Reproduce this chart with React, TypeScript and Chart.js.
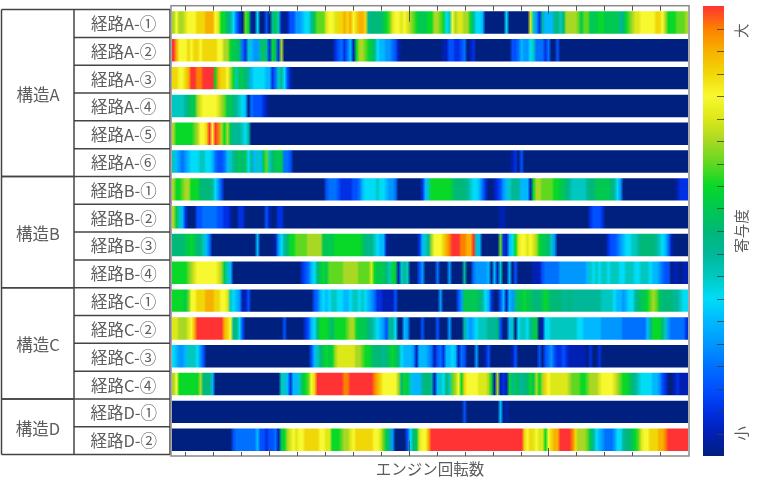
import { useEffect, useRef } from 'react';
import Chart from 'chart.js/auto';

const FONT = '"Noto Sans CJK JP", "Noto Sans", sans-serif';
const TEXT = '#5c5c5c';

// contribution level of each engine speed bin, 0 (small) .. 20 (large)
const routeA1 = [
  14,16,14,14,15,16,16,16,17,17,17,18,18,18,16,15,12,12,10,9,
  7,4,2,0,13,12,1,0,7,0,0,3,0,9,11,8,1,0,1,3,
  3,5,5,6,7,7,9,11,13,13,13,15,16,16,15,17,17,18,17,18,
  16,17,18,18,17,9,10,10,10,10,11,12,13,15,16,16,15,16,15,14,
  13,12,11,11,11,12,12,14,14,13,12,7,8,16,14,15,15,14,14,12,
  9,7,7,6,0,0,0,0,0,0,0,7,0,0,0,0,0,0,0,15,
  8,5,2,9,6,6,6,9,10,8,10,14,14,14,14,13,11,13,13,11,
  11,11,12,12,11,11,11,11,11,9,10,12,13,14,15,15,16,16,16,16,
  16,17,17,16,14,12,12,12,13,13,13,14,
];
const routeA2 = [
  20,18,16,16,16,17,16,17,17,16,17,17,17,17,17,16,16,14,14,12,
  11,11,10,4,2,8,6,5,5,9,11,9,2,12,10,2,14,0,0,0,
  0,0,0,0,0,0,0,0,0,0,0,0,0,0,2,3,4,2,4,6,
  1,12,14,14,13,12,11,10,7,6,6,5,5,4,3,1,0,0,0,0,
  0,0,0,0,0,0,0,0,0,0,1,1,3,3,2,2,3,4,0,1,
  2,0,0,0,0,0,0,0,0,0,0,0,0,3,3,4,6,5,5,7,
  8,4,4,4,2,4,0,0,3,0,0,0,0,0,0,0,0,0,0,0,
  0,0,0,0,0,0,0,0,0,0,0,0,0,0,0,0,0,0,0,0,
  0,0,0,0,0,0,0,0,0,0,0,0,
];
const routeA3 = [
  17,17,16,16,17,18,20,20,19,19,20,20,20,20,12,18,17,17,16,14,
  12,8,11,11,10,9,6,7,7,7,7,6,6,2,4,8,9,7,3,1,
  0,0,0,0,0,0,0,0,0,0,0,0,0,0,0,0,0,0,0,0,
  0,0,0,0,0,0,0,0,0,0,0,0,0,0,0,0,0,0,0,0,
  0,0,0,0,0,0,0,0,0,0,0,0,0,0,0,0,0,0,0,0,
  0,0,0,0,0,0,0,0,0,0,0,0,0,0,0,0,0,0,0,0,
  0,0,0,0,0,0,0,0,0,0,0,0,0,0,0,0,0,0,0,0,
  0,0,0,0,0,0,0,0,0,0,0,0,0,0,0,0,0,0,0,0,
  0,0,0,0,0,0,0,0,0,0,0,0,
];
const routeA4 = [
  8,8,8,8,9,10,11,11,14,15,16,16,16,16,16,15,14,13,11,11,
  10,9,8,7,6,0,4,3,3,3,2,1,0,0,0,0,0,0,0,0,
  0,0,0,0,0,0,0,0,0,0,0,0,0,0,0,0,0,0,0,0,
  0,0,0,0,0,0,0,0,0,0,0,0,0,0,0,0,0,0,0,0,
  0,0,0,0,0,0,0,0,0,0,0,0,0,0,0,0,0,0,0,0,
  0,0,0,0,0,0,0,0,0,0,0,0,0,0,0,0,0,0,0,0,
  0,0,0,0,0,0,0,0,0,0,0,0,0,0,0,0,0,0,0,0,
  0,0,0,0,0,0,0,0,0,0,0,0,0,0,0,0,0,0,0,0,
  0,0,0,0,0,0,0,0,0,0,0,0,
];
const routeA5 = [
  14,12,12,12,12,12,12,13,14,16,16,17,20,16,20,19,14,12,14,11,
  9,9,9,8,7,9,0,0,0,0,0,0,0,0,0,0,0,0,0,0,
  0,0,0,0,0,0,0,0,0,0,0,0,0,0,0,0,0,0,0,0,
  0,0,0,0,0,0,0,0,0,0,0,0,0,0,0,0,0,0,0,0,
  0,0,0,0,0,0,0,0,0,0,0,0,0,0,0,0,0,0,0,0,
  0,0,0,0,0,0,0,0,0,0,0,0,0,0,0,0,0,0,0,0,
  0,0,0,0,0,0,0,0,0,0,0,0,0,0,0,0,0,0,0,0,
  0,0,0,0,0,0,0,0,0,0,0,0,0,0,0,0,0,0,0,0,
  0,0,0,0,0,0,0,0,0,0,0,0,
];
const routeA6 = [
  8,6,5,4,5,6,7,7,7,8,8,7,7,6,4,3,3,4,6,8,
  9,10,11,10,11,7,9,6,8,6,11,13,8,10,11,11,11,4,4,3,
  0,0,0,0,0,0,0,0,0,0,0,0,0,0,0,0,0,0,0,0,
  0,0,0,0,0,0,0,0,0,0,0,0,0,0,0,0,0,0,0,0,
  0,0,0,0,0,0,0,0,0,0,0,0,0,0,0,0,0,0,0,0,
  0,0,0,0,0,0,0,0,0,0,0,0,0,1,2,0,3,0,0,0,
  0,0,0,0,0,0,0,0,0,0,0,0,0,0,0,0,0,0,0,0,
  0,0,0,0,0,0,0,0,0,0,0,0,0,0,0,0,0,0,0,0,
  0,0,0,0,0,0,0,0,0,0,0,0,
];
const routeB1 = [
  14,12,12,13,14,14,12,12,12,10,10,10,10,9,7,5,3,0,0,0,
  0,0,0,0,0,0,0,0,0,0,0,0,0,0,0,0,0,0,0,0,
  0,0,0,0,0,0,0,0,0,0,0,3,4,4,4,3,2,2,2,2,
  3,3,4,6,7,7,7,7,8,7,7,6,5,5,4,0,0,0,0,0,
  0,0,0,2,6,8,12,12,12,12,12,12,12,11,10,10,10,10,9,8,
  7,7,6,4,2,0,0,1,2,3,5,6,8,9,9,9,6,6,6,1,
  12,14,14,13,13,13,13,12,12,11,11,10,9,8,8,8,8,8,9,10,
  10,11,11,11,11,11,10,9,7,5,0,0,0,0,0,0,0,0,0,0,
  0,0,0,0,0,0,0,0,1,2,2,2,
];
const routeB2 = [
  14,11,8,6,2,0,0,0,3,3,4,4,4,4,4,3,3,2,2,1,
  0,0,2,2,0,0,0,0,0,0,0,3,1,0,0,2,2,0,0,0,
  0,0,0,0,0,0,0,0,0,0,0,0,0,0,0,0,0,0,0,0,
  0,0,0,0,0,0,0,0,0,0,0,0,0,0,0,0,0,0,0,0,
  0,0,0,0,0,0,0,0,0,0,0,0,0,0,0,0,0,0,0,0,
  0,0,0,0,0,0,0,0,0,1,1,0,0,0,0,0,0,0,0,0,
  0,0,0,0,0,0,0,0,0,0,0,0,0,0,0,0,0,0,0,2,
  3,3,3,2,0,0,0,0,0,0,0,0,0,0,0,0,0,0,0,0,
  0,0,0,0,0,0,0,0,0,0,0,0,
];
const routeB3 = [
  10,10,10,10,11,11,12,11,10,10,8,6,4,0,0,0,0,0,0,0,
  0,0,0,0,0,0,0,0,6,0,0,0,0,0,1,5,7,9,10,12,
  12,13,13,13,13,14,14,14,14,14,11,11,11,11,12,12,12,12,12,12,
  12,12,12,11,10,9,10,8,7,6,6,1,0,0,0,0,0,0,0,0,
  0,0,2,6,8,9,14,16,16,16,17,18,19,20,20,20,19,19,18,18,
  20,8,6,0,0,0,0,0,0,13,2,1,6,7,12,15,16,16,15,16,
  15,14,12,11,11,10,8,5,0,0,0,0,0,0,0,0,0,0,0,0,
  0,0,0,0,0,2,3,3,4,5,6,7,7,8,8,9,10,10,10,10,
  10,9,8,7,6,4,1,0,0,0,0,0,
];
const routeB4 = [
  12,12,12,12,12,13,14,15,16,16,16,16,16,16,16,15,14,11,8,6,
  0,0,0,0,0,0,0,0,0,0,0,0,0,0,0,0,0,0,0,0,
  0,0,0,2,3,4,6,7,10,11,12,11,13,13,13,13,13,14,14,14,
  14,14,13,13,13,13,15,12,11,11,11,10,8,12,11,1,8,9,8,0,
  0,0,3,5,0,0,0,0,4,0,0,0,5,0,0,0,0,9,0,0,
  4,5,5,5,5,6,0,6,1,8,0,0,6,0,3,0,0,0,0,0,
  1,1,1,3,4,4,4,4,4,5,5,5,5,5,5,5,5,5,6,8,
  7,8,7,8,8,7,8,8,8,7,7,8,8,8,7,7,8,8,8,7,
  6,6,5,4,3,3,0,1,1,0,1,1,
];
const routeC1 = [
  12,12,12,12,11,13,16,16,17,17,17,18,18,18,17,17,16,16,15,8,
  7,6,5,1,1,3,0,0,0,0,0,0,0,0,0,0,0,0,0,0,
  0,0,0,0,0,0,0,3,4,6,7,6,7,8,8,7,7,6,6,7,
  8,8,7,8,7,6,5,4,2,2,1,1,1,1,3,0,0,0,0,0,
  0,0,0,0,0,0,0,0,0,5,0,0,0,0,0,3,5,11,11,11,
  11,11,10,9,7,6,2,0,0,3,6,1,6,5,9,11,11,12,11,11,
  10,10,10,11,12,11,10,10,10,10,9,9,10,9,9,9,9,9,9,9,
  9,9,9,8,8,8,8,7,6,6,5,6,7,7,9,10,11,11,12,13,
  14,13,11,10,10,10,10,9,9,8,7,7,
];
const routeC2 = [
  15,15,14,14,14,15,16,18,20,20,20,20,20,20,20,20,20,18,17,16,
  9,10,7,3,0,0,0,0,0,0,0,0,0,0,0,0,0,3,0,0,
  0,0,0,0,2,3,6,7,10,12,12,12,11,10,12,12,12,12,13,14,
  14,12,11,11,11,10,9,8,7,6,5,3,9,9,7,0,0,6,5,0,
  0,0,0,3,0,0,0,0,3,0,0,0,5,0,0,0,0,9,6,5,
  6,7,8,8,8,9,9,9,10,3,0,0,6,8,0,7,8,8,7,9,
  11,11,0,1,7,7,8,8,8,8,8,8,8,8,8,7,7,6,6,6,
  6,6,6,5,5,5,5,5,5,5,4,4,4,4,4,4,4,4,6,9,
  12,12,12,10,8,5,4,4,4,4,4,2,
];
const routeC3 = [
  7,6,5,5,6,8,8,8,7,5,3,0,0,0,0,0,0,0,0,0,
  0,0,0,0,0,0,0,0,0,0,0,0,0,0,0,0,0,0,0,0,
  0,0,0,0,0,0,3,6,8,10,11,12,11,12,14,15,15,15,15,15,
  15,14,14,13,12,12,11,10,10,10,9,10,11,12,11,10,7,6,6,6,
  5,1,6,6,6,5,4,1,3,4,2,6,6,7,6,1,4,3,0,0,
  0,5,0,0,1,3,0,0,0,0,0,0,0,1,3,0,0,0,0,0,
  0,0,3,0,3,4,5,3,2,2,3,2,1,1,1,1,1,1,0,2,
  0,0,2,0,0,0,0,0,0,0,0,0,0,0,0,0,0,0,0,0,
  0,0,0,0,0,0,0,0,0,0,0,0,
];
const routeC4 = [
  14,16,12,12,12,12,12,12,12,14,10,10,10,6,0,0,0,0,0,0,
  0,0,0,0,0,0,0,0,0,0,0,0,0,0,0,0,8,8,6,2,
  6,6,8,11,12,13,16,17,20,20,20,20,20,20,20,20,20,19,19,20,
  20,20,20,20,20,20,20,19,18,17,16,16,16,16,16,14,10,12,11,8,
  6,6,6,9,10,10,9,1,6,8,7,10,8,13,14,16,12,17,16,16,
  16,16,15,15,15,14,12,1,14,1,2,1,12,9,11,10,9,10,10,12,
  11,14,12,14,17,16,15,15,15,15,15,15,14,13,13,13,12,12,13,14,
  14,14,15,16,16,16,16,15,14,13,12,12,11,10,9,8,7,7,7,7,
  6,6,5,3,2,0,0,1,2,1,1,1,
];
const routeD1 = [
  0,0,0,0,0,0,0,0,0,0,0,0,0,0,0,0,0,0,0,0,
  0,0,0,0,0,0,0,0,0,0,0,0,0,0,0,0,0,0,0,0,
  0,0,0,0,0,0,0,0,0,0,0,0,0,0,0,0,0,0,0,0,
  0,0,0,0,0,0,0,0,0,0,0,0,0,0,0,0,0,0,0,0,
  0,0,0,0,0,0,0,0,0,0,0,0,0,0,0,0,0,3,0,0,
  0,0,0,0,0,0,0,0,0,6,0,1,0,0,0,0,0,0,0,0,
  0,0,0,0,0,0,0,0,0,0,0,0,0,0,0,0,0,0,0,0,
  0,0,0,0,0,0,0,0,0,0,0,0,0,0,0,0,0,0,0,0,
  0,0,0,0,0,0,0,0,0,0,0,0,
];
const routeD2 = [
  0,0,0,0,0,0,0,0,0,0,0,0,0,0,0,0,0,0,0,0,
  3,4,4,4,4,4,4,4,6,3,3,2,3,3,4,1,11,12,14,15,
  16,15,16,16,17,17,17,17,17,16,16,15,15,12,12,12,13,14,14,15,
  16,17,17,17,17,17,17,16,16,15,13,11,9,5,0,0,0,0,3,7,
  10,11,15,16,16,18,20,20,20,20,20,20,20,20,20,20,20,20,20,20,
  20,20,20,20,20,20,20,20,20,20,20,20,20,20,20,20,20,17,16,17,
  15,16,15,15,12,16,17,18,18,20,20,20,20,19,17,14,14,14,13,11,
  9,7,6,5,4,4,4,5,7,7,9,10,10,11,12,13,15,16,16,17,
  17,17,18,18,19,20,20,20,20,20,20,20,
];

const routeLevels = [
  routeA1, routeA2, routeA3, routeA4, routeA5, routeA6,
  routeB1, routeB2, routeB3, routeB4,
  routeC1, routeC2, routeC3, routeC4,
  routeD1, routeD2,
];
const routeNames = [
  '経路A-①', '経路A-②', '経路A-③', '経路A-④', '経路A-⑤', '経路A-⑥',
  '経路B-①', '経路B-②', '経路B-③', '経路B-④',
  '経路C-①', '経路C-②', '経路C-③', '経路C-④',
  '経路D-①', '経路D-②',
];
const structureNames = ['構造A', '構造B', '構造C', '構造D'];
const structureSizes = [6, 4, 4, 2];

// colour bar, from level 0 to level 20
const levelColors = [
  '#00207f', '#0020b4', '#0030e4', '#0050ff', '#0070ff', '#0098ff', '#00b8ff',
  '#00dcf8', '#00c8c0', '#00b898', '#00b878', '#00c850', '#08d828', '#60d820',
  '#a8d824', '#dce818', '#f8f830', '#f0d808', '#f8b000', '#fc8000', '#ff3333',
];
const scaleNames = ['大', '寄与度', '小'];
const scaleNameLevels = [18.9, 10, 1];

const binCount = 172;
const firstTick = 4.33;
const tickStep = 9.32;
const tickCount = 18;

// the picture is smoothed between bins, so each cell fades into its neighbours
const mix = (a: string, b: string) => {
  const out = [1, 3, 5].map((i) =>
    Math.round((parseInt(a.slice(i, i + 2), 16) + parseInt(b.slice(i, i + 2), 16)) / 2)
  );
  return `rgb(${out[0]},${out[1]},${out[2]})`;
};

const cellFill = (c: any) => {
  const row = routeLevels[c.dataIndex];
  if (!row) return levelColors[0];
  const bin = c.datasetIndex;
  const here = levelColors[row[bin]];
  const prev = levelColors[row[Math.max(bin - 1, 0)]];
  const next = levelColors[row[Math.min(bin + 1, binCount - 1)]];
  if (prev === here && next === here) return here;
  if (!c.chart.chartArea) return here;
  const x = c.chart.scales.x;
  const x0 = x.getPixelForValue(bin);
  const x1 = x.getPixelForValue(bin + 1);
  if (!Number.isFinite(x0) || !Number.isFinite(x1)) return here;
  const g = c.chart.ctx.createLinearGradient(x0, 0, x1, 0);
  g.addColorStop(0, mix(prev, here));
  g.addColorStop(0.5, here);
  g.addColorStop(1, mix(here, next));
  return g;
};

const tablePlugin = {
  id: 'routeTable',
  afterDraw(chart: any) {
    const { ctx, scales, chartArea } = chart;
    const y = scales.y;
    const x = scales.x;
    const line = (x1: number, y1: number, x2: number, y2: number) => {
      ctx.beginPath();
      ctx.moveTo(x1, y1);
      ctx.lineTo(x2, y2);
      ctx.stroke();
    };
    const rowEdge = (i: number) => y.getPixelForValue(i - 0.5) + 1;
    ctx.save();

    // left table
    ctx.strokeStyle = '#444';
    ctx.lineWidth = 1.5;
    routeNames.forEach((_, i) => line(74, rowEdge(i), 170, rowEdge(i)));
    line(74, rowEdge(16), 170, rowEdge(16));
    line(1.5, rowEdge(0), 1.5, rowEdge(16));
    line(74, rowEdge(0), 74, rowEdge(16));
    line(170, rowEdge(0), 170, rowEdge(16));

    ctx.font = `16.5px ${FONT}`;
    ctx.fillStyle = TEXT;
    ctx.textAlign = 'center';
    ctx.textBaseline = 'middle';
    let start = 0;
    structureNames.forEach((name, i) => {
      const end = start + structureSizes[i];
      line(1.5, rowEdge(start), 74, rowEdge(start));
      line(1.5, rowEdge(end), 74, rowEdge(end));
      ctx.fillText(name, 38, (rowEdge(start) + rowEdge(end)) / 2 + 1.5);
      start = end;
    });

    // frame and inward ticks
    ctx.strokeStyle = '#8a8a8a';
    ctx.strokeRect(171, chartArea.top - 2.9, 518, 450.3);
    ctx.strokeStyle = '#555';
    ctx.lineWidth = 1;
    const top = chartArea.top - 2.9;
    const bottom = top + 450.3;
    for (let i = 0; i < tickCount; i++) {
      const px = Math.round(x.getPixelForValue(firstTick + i * tickStep)) + 0.5;
      const major = i % 5 === 3;
      const topLen = i === 8 ? 16 : major ? 8.5 : 5;
      const bottomLen = i === 8 ? 15 : major ? 8 : 4;
      line(px, top, px, top + topLen);
      line(px, bottom, px, bottom - bottomLen);
    }
    ctx.restore();
  },
};

const colorBarPlugin = {
  id: 'colorBarMarks',
  afterDraw(chart: any) {
    const { ctx, scales, chartArea } = chart;
    const y = scales.y;
    ctx.save();
    ctx.strokeStyle = 'rgba(60,60,60,0.8)';
    ctx.lineWidth = 1;
    for (let level = 1; level < levelColors.length - 1; level++) {
      const py = Math.round(y.getPixelForValue(level)) + 0.5;
      ctx.beginPath();
      ctx.moveTo(chartArea.right - 7, py);
      ctx.lineTo(chartArea.right, py);
      ctx.stroke();
    }
    ctx.font = `14.5px ${FONT}`;
    ctx.fillStyle = TEXT;
    ctx.textAlign = 'center';
    ctx.textBaseline = 'middle';
    scaleNames.forEach((name, i) => {
      ctx.save();
      ctx.translate(chartArea.right + 17, y.getPixelForValue(scaleNameLevels[i]));
      ctx.rotate(-Math.PI / 2);
      ctx.fillText(name, 0, 0);
      ctx.restore();
    });
    ctx.restore();
  },
};

const App = () => {
  const chartRef = useRef<HTMLCanvasElement | null>(null);
  const barRef = useRef<HTMLCanvasElement | null>(null);

  useEffect(() => {
    if (!chartRef.current || !barRef.current) return;

    const datasets = [];
    for (let bin = 0; bin < binCount; bin++) {
      datasets.push({
        label: String(bin),
        data: routeLevels.map(() => 1),
        backgroundColor: cellFill,
        barPercentage: 0.806,
        categoryPercentage: 1,
      });
    }

    const heatmap = new Chart(chartRef.current, {
      type: 'bar',
      data: { labels: routeNames, datasets },
      plugins: [tablePlugin],
      options: {
        indexAxis: 'y',
        animation: false,
        responsive: false,
        layout: { padding: { left: 75, right: 72, top: 8.6, bottom: 0 } },
        plugins: { legend: { display: false }, tooltip: { enabled: false } },
        scales: {
          x: {
            stacked: true,
            min: 0,
            max: binCount,
            grid: { display: false },
            border: { display: false },
            ticks: { display: false },
            title: {
              display: true,
              text: 'エンジン回転数',
              color: TEXT,
              font: { family: FONT, size: 15.5 },
              padding: { top: 4, bottom: 11 },
            },
            afterFit: (scale: any) => {
              scale.height = 35.4;
            },
          },
          y: {
            stacked: true,
            grid: { display: false, drawTicks: false },
            border: { display: false },
            ticks: {
              color: TEXT,
              autoSkip: false,
              crossAlign: 'center',
              padding: 15,
              labelOffset: 1.2,
              font: { family: FONT, size: 16.5 },
            },
            afterFit: (scale: any) => {
              scale.width = 97;
              scale.paddingTop = 0;
              scale.paddingBottom = 0;
            },
          },
        },
      },
    } as any);

    const colorBar = new Chart(barRef.current, {
      type: 'bar',
      data: {
        labels: [''],
        datasets: [
          {
            data: [[0, levelColors.length - 1]],
            barPercentage: 1,
            categoryPercentage: 1,
            backgroundColor: (c: any) => {
              const area = c.chart.chartArea;
              if (!area) return levelColors[0];
              const g = c.chart.ctx.createLinearGradient(0, area.bottom, 0, area.top);
              levelColors.forEach((col, i) => g.addColorStop(i / (levelColors.length - 1), col));
              return g;
            },
          },
        ],
      },
      plugins: [colorBarPlugin],
      options: {
        animation: false,
        responsive: false,
        layout: { padding: { left: 13, right: 36, top: 6, bottom: 33 } },
        plugins: { legend: { display: false }, tooltip: { enabled: false } },
        scales: {
          x: { display: false },
          y: { display: false, min: 0, max: levelColors.length - 1 },
        },
      },
    } as any);

    return () => {
      heatmap.destroy();
      colorBar.destroy();
    };
  }, []);

  const soft = { position: 'absolute', top: 0, filter: 'blur(0.5px)' } as const;

  return (
    <div style={{ position: 'absolute', left: 0, top: 0, width: 760, height: 489, background: '#fff' }}>
      <canvas ref={chartRef} width={760} height={489} style={{ ...soft, left: 0 }}></canvas>
      <canvas ref={barRef} width={70} height={489} style={{ ...soft, left: 690 }}></canvas>
    </div>
  );
};

export default App;
